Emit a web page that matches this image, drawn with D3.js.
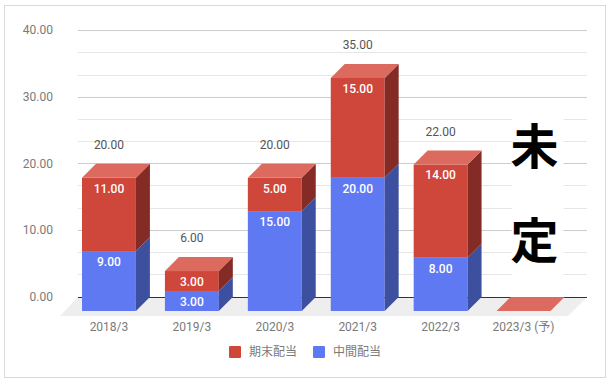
<!DOCTYPE html>
<html>
<head>
<meta charset="utf-8">
<script src="https://cdn.jsdelivr.net/npm/d3@7"></script>
<style>
body { margin: 0; background: #fff; }
text { font-family: Roboto, "Noto Sans CJK JP", sans-serif; }
</style>
</head>
<body>
<script>
var categories = ["2018/3", "2019/3", "2020/3", "2021/3", "2022/3", "2023/3 (予)"];
var interim = [9, 3, 15, 20, 8, 0];
var yearEnd = [11, 3, 5, 15, 14, 0];
var totals = [20, 6, 20, 35, 22, null];
var majorTicks = [0, 10, 20, 30, 40];
var minorTicks = [3.33, 6.67, 13.33, 16.67, 23.33, 26.67, 33.33, 36.67];
var seriesNames = ["期末配当", "中間配当"];

var w = 612;
var h = 383;
var depth = 14; //bar depth, back wall sits this far up and right of bar fronts
var colors = {
    interim: { front: "#5f79f3", side: "#3d50a0", top: "#7d92f5" },
    yearEnd: { front: "#cf463a", side: "#842b26", top: "#dc6a5e" }
};

var svg = d3.select("body").append("svg").attr("width", w).attr("height", h);

var x = d3.scaleBand().domain(categories).range([67.5, 565]).paddingInner(0.35).paddingOuter(0.175);
var y = d3.scaleLinear().domain([0, 40]).range([311, 44.6]);
var fmt = d3.format(".2f");

svg.append("rect").attr("x", 4.5).attr("y", 5.5).attr("width", 601).attr("height", 372)
    .attr("fill", "#fff").attr("stroke", "#d9d9d9");

//floor
var floorLeft = 78, floorRight = 587, floorFront = y(0) + 5;
svg.append("path")
    .attr("d", "M" + floorLeft + "," + (y(0) - depth) + "L" + floorRight + "," + (y(0) - depth)
        + "L" + (floorRight - 19) + "," + floorFront + "L" + (floorLeft - 18) + "," + floorFront + "Z")
    .attr("fill", "#eeeeee");

//grid lines on the back wall, from the same scale shifted by depth
var back = y.copy().range(y.range().map(function(d){ return d - depth; }));
svg.append("g").selectAll("line")
    .data(minorTicks.map(function(v){ return { v: v, c: "#e6e6e6" }; })
        .concat(majorTicks.map(function(v){ return { v: v, c: v === 0 ? "#333333" : "#cccccc" }; })))
    .enter().append("line")
    .attr("x1", floorLeft).attr("x2", floorRight)
    .attr("y1", function(d){ return Math.floor(back(d.v)) + 0.5; })
    .attr("y2", function(d){ return Math.floor(back(d.v)) + 0.5; })
    .attr("stroke", function(d){ return d.c; });

//y axis labels
var yAxis = svg.append("g").attr("transform", "translate(58,-0.5)")
    .call(d3.axisLeft(back).tickValues(majorTicks).tickFormat(fmt).tickSize(0).tickPadding(5));
yAxis.select(".domain").remove();
yAxis.selectAll("text").attr("font-size", 12).attr("fill", "#7a7a7a")
    .style("font-family", "Roboto").attr("dy", "0.32em");

//x axis labels
var xAxis = svg.append("g").attr("transform", "translate(0,322)")
    .call(d3.axisBottom(x).tickSize(0).tickPadding(0));
xAxis.select(".domain").remove();
xAxis.selectAll("text").attr("font-size", 12).attr("fill", "#7a7a7a")
    .style("font-family", "Roboto, 'Noto Sans CJK JP'");

//stacked boxes
var rows = categories.map(function(c, i){
    return { cat: c, interim: interim[i], yearEnd: yearEnd[i] };
});
var stack = d3.stack().keys(["interim", "yearEnd"])(rows);
var bw = x.bandwidth();

var segs = [];
categories.forEach(function(c, i){
    stack.forEach(function(s){
        segs.push({ key: s.key, cat: c, y0: s[i][0], y1: s[i][1], top: s.key === "yearEnd" });
    });
});

var boxes = svg.selectAll("g.box").data(segs).enter().append("g").attr("class", "box");

boxes.filter(function(d){ return d.y1 > d.y0; }).append("rect")
    .attr("x", function(d){ return x(d.cat); })
    .attr("y", function(d){ return y(d.y1); })
    .attr("width", bw)
    .attr("height", function(d){ return y(d.y0) - y(d.y1); })
    .attr("fill", function(d){ return colors[d.key].front; });

boxes.filter(function(d){ return d.y1 > d.y0; }).append("path")
    .attr("d", function(d){
        var r = x(d.cat) + bw;
        return "M" + r + "," + y(d.y1) + "l" + depth + "," + (-depth)
            + "V" + (y(d.y0) - depth) + "l" + (-depth) + "," + depth + "Z";
    })
    .attr("fill", function(d){ return colors[d.key].side; });

//top face of each column, the empty last year still has one
boxes.filter(function(d){ return d.top; }).append("path")
    .attr("d", function(d){
        return "M" + x(d.cat) + "," + y(d.y1) + "l" + depth + "," + (-depth)
            + "h" + bw + "l" + (-depth) + "," + depth + "Z";
    })
    .attr("fill", function(d){ return colors[d.key].top; });

boxes.filter(function(d){ return d.y1 > d.y0; }).append("text")
    .text(function(d){ return fmt(d.y1 - d.y0); })
    .attr("x", function(d){ return x(d.cat) + bw / 2; })
    .attr("y", function(d){ return y(d.y1) + 10.7; })
    .attr("dy", "0.35em")
    .attr("text-anchor", "middle")
    .attr("font-size", 12)
    .attr("font-weight", 500)
    .attr("fill", "#fff");

//totals above the columns
svg.selectAll("text.total").data(categories.map(function(c, i){ return { cat: c, v: totals[i] }; })
    .filter(function(d){ return d.v !== null; }))
    .enter().append("text").attr("class", "total")
    .text(function(d){ return fmt(d.v); })
    .attr("x", function(d){ return x(d.cat) + bw / 2; })
    .attr("y", function(d){ return back(d.v) - 19; })
    .attr("dy", "0.35em")
    .attr("text-anchor", "middle")
    .attr("font-size", 12)
    .attr("fill", "#555555");

//white patch and the pasted-on note
var last = x("2023/3 (予)");
svg.append("rect").attr("x", last + 15).attr("y", 100).attr("width", 52).attr("height", back(0) - 100.5)
    .attr("fill", "#fff");
svg.selectAll("text.note").data(["未", "定"]).enter().append("text").attr("class", "note")
    .text(function(d){ return d; })
    .attr("x", last + bw / 2 + 11)
    .attr("y", function(d, i){ return 164 + i * 94; })
    .attr("text-anchor", "middle")
    .attr("font-size", 48)
    .attr("font-weight", 700)
    .attr("fill", "#000")
    .style("font-family", "'Noto Sans CJK JP'");

//legend
var legend = svg.selectAll("g.legend").data(seriesNames).enter().append("g").attr("class", "legend")
    .attr("transform", function(d, i){ return "translate(" + (229 + i * 84) + ",346)"; });
legend.append("rect").attr("width", 12).attr("height", 12).attr("rx", 1)
    .attr("fill", function(d, i){ return i === 0 ? colors.yearEnd.front : colors.interim.front; });
legend.append("text").text(function(d){ return d; })
    .attr("x", 20).attr("y", 6).attr("dy", "0.35em")
    .attr("font-size", 12).attr("fill", "#7a7a7a");
</script>
</body>
</html>
